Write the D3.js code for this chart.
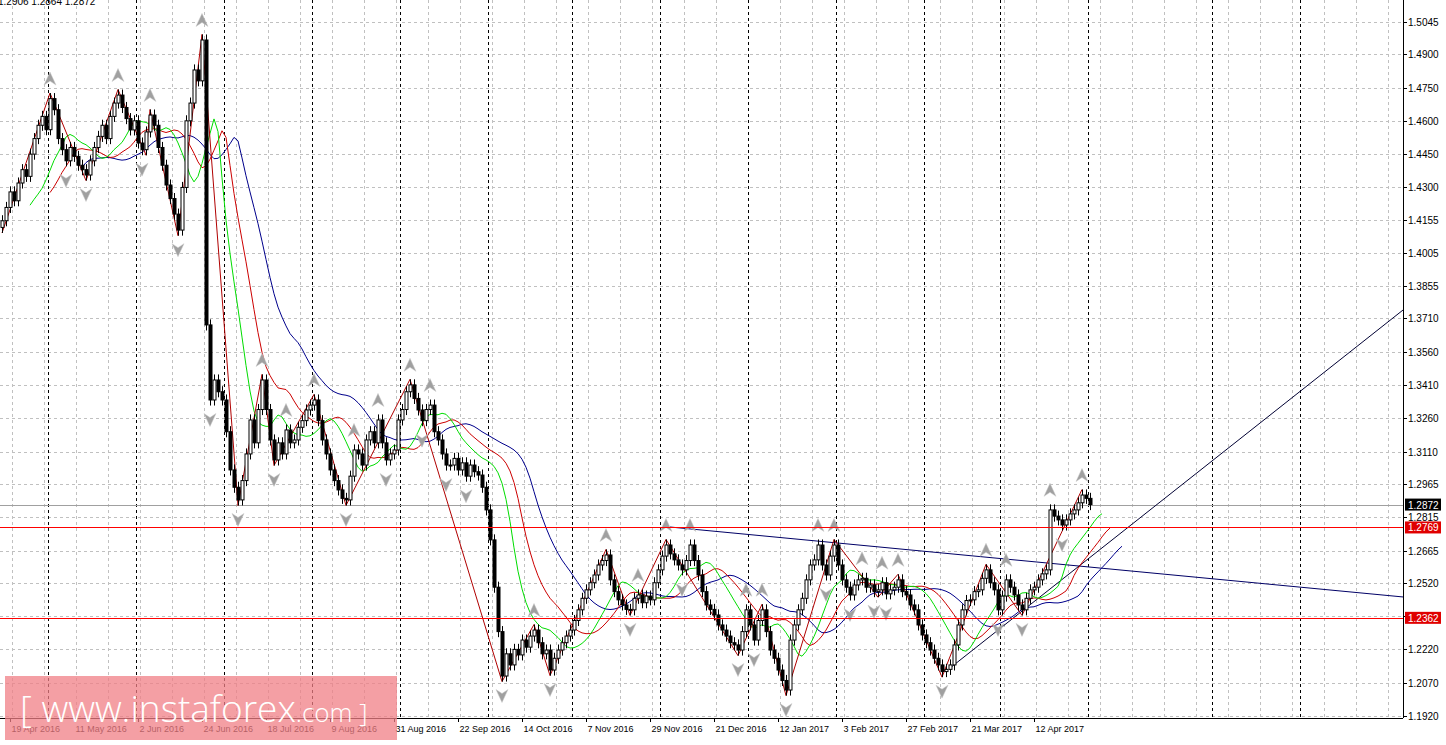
<!DOCTYPE html>
<html><head><meta charset="utf-8">
<script src="https://cdn.jsdelivr.net/npm/d3@7"></script>
<style>body{margin:0;background:#fff;overflow:hidden}svg{display:block}</style>
</head><body>
<svg id="c" width="1446" height="745"></svg>
<script>
const closes = [
1.4150,1.4210,1.4280,1.4240,1.4320,1.4380,1.4350,1.4450,1.4520,1.4580,
1.4620,1.4560,1.4700,1.4650,1.4520,1.4470,1.4420,1.4480,1.4440,1.4400,
1.4380,1.4356,1.4420,1.4480,1.4530,1.4580,1.4520,1.4620,1.4680,1.4716,
1.4660,1.4610,1.4559,1.4600,1.4500,1.4470,1.4550,1.4626,1.4580,1.4480,
1.4400,1.4311,1.4250,1.4180,1.4108,1.4300,1.4600,1.4680,1.4829,1.4780,
1.4964,1.3681,1.3343,1.3433,1.3380,1.3343,1.3200,1.3028,1.2950,1.2893,
1.2980,1.3100,1.3253,1.3150,1.3300,1.3433,1.3300,1.3163,1.3073,1.3150,
1.3100,1.3208,1.3150,1.3163,1.3220,1.3250,1.3298,1.3320,1.3343,1.3250,
1.3163,1.3100,1.3028,1.2980,1.2938,1.2900,1.2893,1.3000,1.3118,1.3100,
1.3050,1.3163,1.3200,1.3150,1.3253,1.3150,1.3073,1.3100,1.3118,1.3253,
1.3300,1.3380,1.3411,1.3350,1.3298,1.3250,1.3300,1.3320,1.3200,1.3163,
1.3100,1.3050,1.3050,1.3080,1.3028,1.3060,1.3000,1.3050,1.3020,1.3005,
1.2950,1.2848,1.2713,1.2500,1.2300,1.2100,1.2200,1.2150,1.2220,1.2195,
1.2262,1.2230,1.2280,1.2307,1.2250,1.2200,1.2217,1.2127,1.2180,1.2217,
1.2250,1.2280,1.2307,1.2350,1.2398,1.2450,1.2488,1.2520,1.2555,1.2600,
1.2620,1.2645,1.2533,1.2480,1.2443,1.2420,1.2400,1.2398,1.2450,1.2465,
1.2430,1.2460,1.2443,1.2520,1.2578,1.2640,1.2690,1.2650,1.2623,1.2600,
1.2578,1.2620,1.2690,1.2620,1.2555,1.2480,1.2420,1.2400,1.2375,1.2330,
1.2307,1.2280,1.2250,1.2240,1.2217,1.2300,1.2398,1.2330,1.2262,1.2350,
1.2398,1.2300,1.2217,1.2180,1.2127,1.2080,1.2037,1.2262,1.2330,1.2398,
1.2450,1.2533,1.2600,1.2623,1.2690,1.2600,1.2555,1.2640,1.2690,1.2600,
1.2533,1.2500,1.2465,1.2510,1.2533,1.2540,1.2500,1.2510,1.2480,1.2488,
1.2520,1.2470,1.2488,1.2500,1.2533,1.2480,1.2465,1.2420,1.2398,1.2330,
1.2285,1.2250,1.2217,1.2180,1.2150,1.2120,1.2130,1.2150,1.2240,1.2330,
1.2398,1.2440,1.2443,1.2480,1.2488,1.2540,1.2578,1.2520,1.2488,1.2398,
1.2460,1.2533,1.2500,1.2465,1.2420,1.2398,1.2450,1.2488,1.2500,1.2533,
1.2560,1.2578,1.2848,1.2820,1.2803,1.2780,1.2803,1.2830,1.2848,1.2880,
1.2915,1.2900,1.2872];
const firstOpen = 1.4120;
const priceTicks = [1.5045,1.4900,1.4750,1.4600,1.4450,1.4300,1.4155,1.4005,1.3855,1.3710,1.3560,1.3410,1.3260,1.3110,1.2965,1.2815,1.2665,1.2520,1.2370,1.2220,1.2070,1.1920];
const dateLabels = ["19 Apr 2016","11 May 2016","2 Jun 2016","24 Jun 2016","18 Jul 2016","9 Aug 2016","31 Aug 2016","22 Sep 2016","14 Oct 2016","7 Nov 2016","29 Nov 2016","21 Dec 2016","12 Jan 2017","3 Feb 2017","27 Feb 2017","21 Mar 2017","12 Apr 2017"];
const dateIdx = [2,18,34,50,66,82,98,114,130,146,162,178,194,210,226,242,258];
const monthIdx = [11.5,33.5,55.5,77.5,99.5,121.5,142.5,164.5,186.5,208.5,230.5,249.5,271.5,302.5,324.5];
const zigPivots = [[0,"L"],[12,"H"],[21,"L"],[29,"H"],[36,"L"],[37,"H"],[44,"L"],[50,"H"],[59,"L"],[65,"H"],[68,"L"],[78,"H"],[86,"L"],[102,"H"],[125,"L"],[133,"H"],[137,"L"],[151,"H"],[157,"L"],[166,"H"],[184,"L"],[190,"H"],[196,"L"],[208,"H"],[219,"L"],[224,"H"],[235,"L"],[246,"H"],[255,"L"],[270,"H"]];
const levels = [1.2769, 1.2362];
const lastPrice = 1.2872;
const trend1 = [[167,1.2771],[350.25,1.2456]];
const trend2 = [[237,1.2136],[350.25,1.3748]];
const headerText = "1.2906 1.2864 1.2872";

const svg = d3.select("#c");
const W=1403, H=718;
const x = d3.scaleLinear().domain([0,272]).range([2,1090]);
const y = d3.scaleLinear().domain([1.1920,1.5045]).range([716,22]);
const ry = p=>Math.round(y(p))+0.5;

const bars = closes.map((c,i)=>{const o=i?closes[i-1]:firstOpen; return {i,o,c,h:Math.max(o,c)+0.0025,l:Math.min(o,c)-0.0025};});

svg.append("clipPath").attr("id","pc").append("rect").attr("width",W).attr("height",H);
const g = svg.append("g").attr("clip-path","url(#pc)");

for(let gx=12; gx<W; gx+=32) g.append("line").attr("x1",gx+0.5).attr("x2",gx+0.5).attr("y1",0).attr("y2",H).attr("stroke","#c0c0c0").attr("stroke-dasharray","3,3");
priceTicks.forEach(p=>g.append("line").attr("x1",0).attr("x2",W).attr("y1",ry(p)).attr("y2",ry(p)).attr("stroke","#c0c0c0").attr("stroke-dasharray","3,3"));
monthIdx.forEach(m=>g.append("line").attr("x1",Math.round(x(m))+0.5).attr("x2",Math.round(x(m))+0.5).attr("y1",0).attr("y2",H).attr("stroke","#000").attr("stroke-dasharray","3,3"));

g.append("line").attr("x1",0).attr("x2",W).attr("y1",ry(lastPrice)).attr("y2",ry(lastPrice)).attr("stroke","#a0a0a0");

[trend1,trend2].forEach((t,k)=>g.append("line").attr("x1",x(t[0][0])).attr("y1",y(t[0][1])).attr("x2",x(t[1][0])).attr("y2",y(t[1][1])).attr("stroke",k?"#000033":"#000066").attr("stroke-width",1));

const med = bars.map(b=>(b.h+b.l)/2);
function smma(n){const r=[];let s=0;for(let i=0;i<med.length;i++){if(i<n-1){s+=med[i];r.push(null);}else if(i===n-1){s+=med[i];r.push(s/n);}else r.push((r[i-1]*(n-1)+med[i])/n);}return r;}
const line = d3.line().defined(d=>d[1]!=null).x(d=>x(d[0])).y(d=>y(d[1]));
[[13,8,"#00008b"],[8,5,"#cc0000"],[5,3,"#00dd00"]].forEach(([n,s,col])=>{
  const v=smma(n); g.append("path").attr("d",line(v.map((d,i)=>[i+s,d]))).attr("fill","none").attr("stroke",col).attr("stroke-width",1);
});

const zz = zigPivots.map(([i,t])=>[i, t==="H"?bars[i].h:bars[i].l]);
g.append("path").attr("d",line(zz)).attr("fill","none").attr("stroke","#b00000").attr("stroke-width",1);

bars.forEach(b=>{
  const cx=Math.round(x(b.i))+0.5;
  g.append("line").attr("x1",cx).attr("x2",cx).attr("y1",y(b.h)).attr("y2",y(b.l)).attr("stroke","#000");
  const top=y(Math.max(b.o,b.c)), bot=y(Math.min(b.o,b.c));
  g.append("rect").attr("x",cx-1.5).attr("y",top).attr("width",3).attr("height",Math.max(1,bot-top))
   .attr("fill",b.c>=b.o?"#fff":"#000").attr("stroke","#000").attr("stroke-width",1);
});

function arrow(cx,cy,up){
  const s=up?1:-1;
  g.append("path").attr("d",`M${cx},${cy-7*s} L${cx+6},${cy+6*s} L${cx},${cy+2*s} L${cx-6},${cy+6*s} Z`).attr("fill","#a0a0a0").attr("stroke","#c8c8c8").attr("stroke-width",0.5);
}
for(let i=2;i<bars.length-2;i++){
  const h=bars[i].h,l=bars[i].l;
  if(h>bars[i-1].h&&h>bars[i-2].h&&h>=bars[i+1].h&&h>=bars[i+2].h) arrow(x(i),y(h)-14,true);
  if(l<bars[i-1].l&&l<bars[i-2].l&&l<=bars[i+1].l&&l<=bars[i+2].l) arrow(x(i),y(l)+14,false);
}

// level lines drawn on top, outside the clipped group
levels.forEach(p=>svg.append("rect").attr("x",0).attr("y",Math.round(y(p))).attr("width",W).attr("height",1).attr("fill","#ff0000"));

svg.append("line").attr("x1",W+0.5).attr("x2",W+0.5).attr("y1",0).attr("y2",H).attr("stroke","#000");
svg.append("line").attr("x1",0).attr("x2",W).attr("y1",H+0.5).attr("y2",H+0.5).attr("stroke","#000");
const F="Liberation Sans, Arial";
priceTicks.forEach(p=>{
  svg.append("line").attr("x1",W).attr("x2",W+4).attr("y1",ry(p)).attr("y2",ry(p)).attr("stroke","#000");
  svg.append("text").attr("x",1408).attr("y",y(p)+4).text(p.toFixed(4)).attr("font-family",F).attr("font-size",10).attr("fill","#000");
});
function tag(p,bg){
  svg.append("rect").attr("x",1405).attr("y",y(p)-6).attr("width",36).attr("height",12).attr("fill",bg);
  svg.append("text").attr("x",1408).attr("y",y(p)+4).text(p.toFixed(4)).attr("font-family",F).attr("font-size",10).attr("fill","#fff");
}
tag(lastPrice,"#000"); levels.forEach(p=>tag(p,"#e00000"));
dateLabels.forEach((t,k)=>{
  const px=Math.round(x(dateIdx[k]))+0.5;
  svg.append("line").attr("x1",px).attr("x2",px).attr("y1",H).attr("y2",H+4).attr("stroke","#000");
  svg.append("text").attr("x",px+1).attr("y",732).text(t).attr("font-family",F).attr("font-size",9).attr("fill","#000");
});
svg.append("text").attr("x",-2).attr("y",5).text(headerText).attr("font-family",F).attr("font-size",10).attr("fill","#000");

svg.append("rect").attr("x",5).attr("y",676).attr("width",392).attr("height",64).attr("fill","#f07f86").attr("opacity",0.75);
const wt=svg.append("text").attr("x",20).attr("y",722).attr("fill","#fff").attr("font-family","Open Sans, DejaVu Sans").attr("font-weight",300);
wt.append("tspan").attr("font-size",37).text("[ www.instaforex");
wt.append("tspan").attr("font-size",26).text(".com ]");
</script></body></html>
